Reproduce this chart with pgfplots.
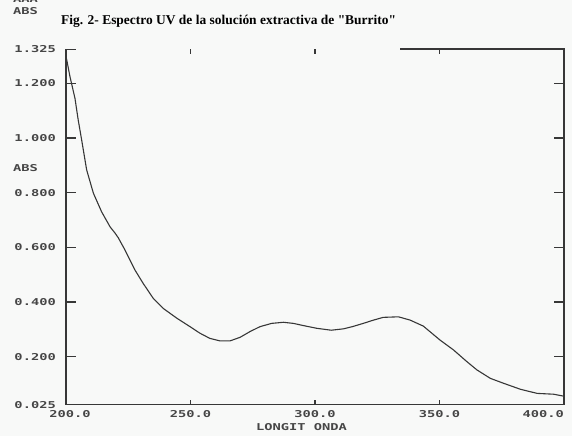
\documentclass[border=0pt]{standalone}
\usepackage{fontspec}
\usepackage{pgfplots}
\pgfplotsset{compat=1.18}
\setmainfont{Liberation Serif}
\newfontfamily\pixfont[FakeStretch=1.45]{DejaVu Sans Mono}
\newfontfamily\titlefont{Liberation Serif}
\definecolor{paper}{RGB}{248,249,248}
\definecolor{ink}{RGB}{55,55,55}
\definecolor{labelink}{RGB}{70,70,70}

\begin{document}
\begin{tikzpicture}[x=1bp,y=1bp]
% page = 572 x 436 px, 1bp per px
\useasboundingbox (0,0) rectangle (572,436);
\clip (0,0) rectangle (572,436);
\fill[paper] (0,0) rectangle (572,436);

\begin{axis}[
    at={(66bp,31.4bp)}, anchor=south west,
    scale only axis,
    width=498bp, height=355.5bp,
    xmin=200, xmax=400,
    ymin=0.025, ymax=1.325,
    axis line style={draw=none},
    tick align=inside,
    major tick length=10bp,
    xtick style={/pgfplots/major tick length=5bp},
    tick style={ink, line width=1.1bp},
    xtick={200,250,300,350,400},
    xticklabels={\hspace*{8bp}200.0,250.0,300.0,350.0,\makebox[0pt][r]{400.0}},
    ytick={0.025,0.2,0.4,0.6,0.8,1.0,1.2,1.325},
    yticklabels={0.025,0.200,0.400,0.600,0.800,1.000,1.200,1.325},
    ticklabel style={font=\pixfont\bfseries\fontsize{9.5}{10}\selectfont, text=labelink, inner sep=0pt},
    xticklabel style={anchor=north, yshift=-6bp},
    yticklabel style={anchor=east, xshift=-10bp},
    clip=false,
]
\addplot[ink, line width=1.1bp] coordinates {
(200.2,1.290) (201.6,1.224) (203.6,1.145) (204.9,1.066) (206.3,0.992)
(208.3,0.883) (211.0,0.798) (214.3,0.730) (217.7,0.675) (219.7,0.652)
(221.0,0.635) (223.7,0.590) (227.7,0.517) (231.0,0.468) (235.0,0.414)
(239.0,0.377) (244.5,0.341) (249.8,0.310) (253.8,0.286) (257.8,0.267)
(261.8,0.258) (265.9,0.258) (269.9,0.271) (273.9,0.292) (277.9,0.310)
(282.6,0.322) (287.3,0.326) (291.3,0.322) (295.3,0.314) (300.7,0.304)
(306.5,0.297) (311.4,0.302) (315.0,0.310) (319.4,0.322) (323.5,0.334)
(327.4,0.344) (333.5,0.346) (338.2,0.334) (343.5,0.312) (350.2,0.261)
(355.6,0.225) (361.0,0.182) (365.0,0.152) (370.4,0.121) (375.7,0.103)
(382.5,0.081) (389.2,0.066) (395.8,0.063) (399.8,0.056)
};
% frame as in the scan: left, bottom, right, and only part of the top
\draw[ink, line width=1.5bp]
    (rel axis cs:0,0.99) -- (rel axis cs:0,0) -- (rel axis cs:1,0)
    -- (rel axis cs:1,1) -- (rel axis cs:0.67,1);
\end{axis}

\begin{scope}[every node/.style={inner sep=0pt, text=labelink,
    font=\pixfont\bfseries\fontsize{9.5}{10}\selectfont}]
\node[anchor=west] at (13,437) {AAA};
\node[anchor=west] at (13,424.5) {ABS};
\node[anchor=west] at (13,268) {ABS};
\node at (301.5,8.5) {LONGIT ONDA};
\end{scope}
\node[anchor=west, inner sep=0pt, text=black,
    font=\titlefont\bfseries\fontsize{13.5}{15}\selectfont]
    at (61,414.3) {Fig. 2- Espectro UV de la solución extractiva de "Burrito"};
\end{tikzpicture}
\end{document}
